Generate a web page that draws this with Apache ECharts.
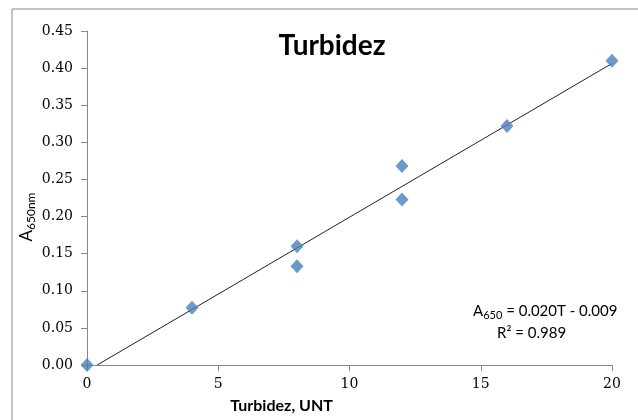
<!DOCTYPE html>
<html><head><meta charset="utf-8">
<script src="https://cdn.jsdelivr.net/npm/echarts@6/dist/echarts.min.js"></script>
<style>html,body{margin:0;padding:0;background:#fff}#c{width:638px;height:420px}</style>
</head><body><div id="c"></div>
<script>
const turbidity = [0, 4, 8, 8, 12, 12, 16, 20];
const absorbance = [0, 0.077, 0.160, 0.133, 0.268, 0.223, 0.322, 0.410];
const yTicks = [0, 0.05, 0.10, 0.15, 0.20, 0.25, 0.30, 0.35, 0.40, 0.45];
const xTicks = [0, 5, 10, 15, 20];
const titleText = 'Turbidez';
const xName = 'Turbidez, UNT';
const eqText = ['A650 = 0.020T - 0.009', 'R² = 0.989'];

// least-squares trendline from the data
const n = turbidity.length;
const mx = turbidity.reduce((a,b)=>a+b,0)/n;
const my = absorbance.reduce((a,b)=>a+b,0)/n;
let sxy=0,sxx=0;
for(let i=0;i<n;i++){sxy+=(turbidity[i]-mx)*(absorbance[i]-my);sxx+=(turbidity[i]-mx)**2;}
const slope=sxy/sxx, icpt=my-slope*mx;
const x0 = -icpt/slope;
const trend = [[x0,0],[20,slope*20+icpt]];

const chart = echarts.init(document.getElementById('c'));
chart.setOption({
  animation:false,
  grid:{left:87,right:26,top:31,bottom:55},
  title:{text:titleText,left:327,top:27,textAlign:'center',
    textStyle:{fontFamily:'Lato',fontWeight:'bold',fontSize:28,color:'#000'}},
  graphic:[
    {type:'rect',shape:{x:12,y:9,width:700,height:500},style:{fill:'none',stroke:'#888',lineWidth:1},silent:true,z:-1},
    {type:'text',x:27,y:217,rotation:Math.PI/2,
      style:{align:'center',verticalAlign:'middle',
        rich:{a:{fontFamily:'Lato',fontSize:17,fill:'#000'},s:{fontFamily:'Lato',fontSize:12,fill:'#000',verticalAlign:'bottom',padding:[9,0,0,0]}},
        text:'{a|A}{s|650nm}'}},
    {type:'text',left:473,top:304,style:{rich:{n:{fontFamily:'Lato',fontSize:15,fill:'#000'},s:{fontFamily:'Lato',fontSize:11,fill:'#000',verticalAlign:'bottom',padding:[8,0,0,0]}},
      text:'{n|A}{s|650}{n| = 0.020T - 0.009}'}},
    {type:'text',left:497,top:326,style:{rich:{n:{fontFamily:'Lato',fontSize:15,fill:'#000'}},text:'{n|R² = 0.989}'}}
  ],
  xAxis:{type:'value',min:0,max:20,interval:5,
    name:xName,nameLocation:'middle',nameGap:33,
    nameTextStyle:{fontFamily:'Lato',fontWeight:'bold',fontSize:16,color:'#000',padding:[0,136,0,0]},
    axisLine:{lineStyle:{color:'#888'}},axisTick:{length:6,lineStyle:{color:'#888'}},
    splitLine:{show:false},
    axisLabel:{fontFamily:'DejaVu Serif',fontSize:14,color:'#000',margin:12}},
  yAxis:{type:'value',min:0,max:0.45,interval:0.05,
    axisLine:{show:true,lineStyle:{color:'#888'}},axisTick:{show:true,length:6,lineStyle:{color:'#888'}},
    splitLine:{show:false},
    axisLabel:{fontFamily:'DejaVu Serif',fontSize:14,color:'#000',margin:14,formatter:v=>v.toFixed(2)}},
  series:[
    {type:'line',data:trend,symbol:'none',lineStyle:{color:'#222',width:1},z:1},
    {type:'scatter',data:turbidity.map((t,i)=>[t,absorbance[i]]),symbol:'diamond',symbolSize:[13,14],
      itemStyle:{color:'#4A7EBB'},z:3}
  ]
});
</script></body></html>
